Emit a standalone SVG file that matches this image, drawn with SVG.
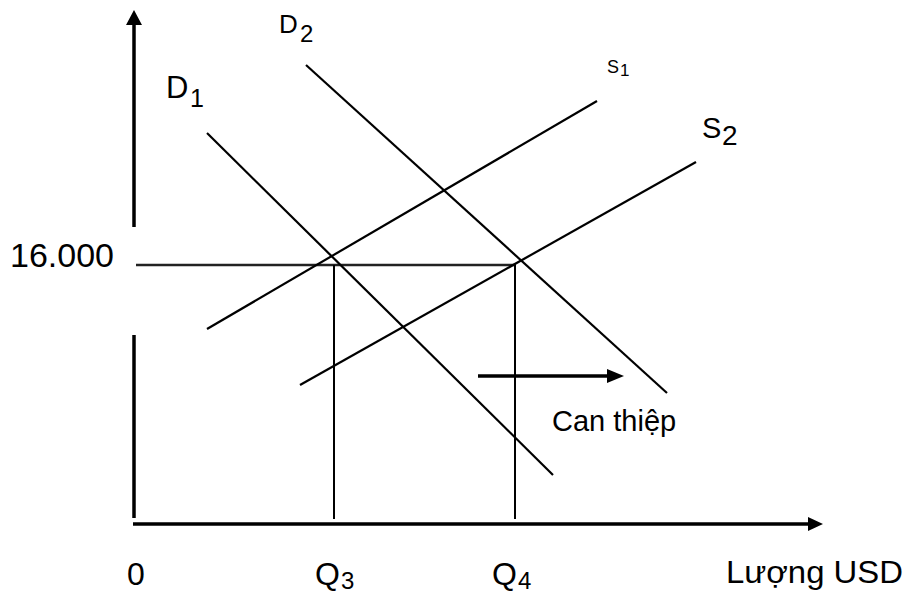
<svg xmlns="http://www.w3.org/2000/svg" width="909" height="594" viewBox="0 0 909 594">
<style>
text{font-family:"Liberation Sans",Arial,sans-serif;fill:#000}
.axis{stroke:#000;stroke-width:3.5;fill:none}
.curve{stroke:#000;stroke-width:2.2;fill:none}
.guide{stroke:#000;stroke-width:2;fill:none}
.level{stroke:#222;stroke-width:2.5;fill:none}
.head{fill:#000;stroke:none}
</style>
<rect width="909" height="594" fill="#fff"/>
<g id="connectors">
  <g id="y-axis">
    <line class="axis" x1="134" y1="22" x2="134" y2="227"/>
    <line class="axis" x1="134" y1="335" x2="134" y2="518"/>
    <polygon class="head" points="134,10 142,25 126,25"/>
  </g>
  <g id="x-axis">
    <line class="axis" x1="133" y1="524" x2="810" y2="524"/>
    <polygon class="head" points="823,524 808,517 808,531"/>
  </g>
  <line id="level-16000" class="level" x1="136" y1="265" x2="516" y2="265"/>
  <line id="q3-line" class="guide" x1="334" y1="265" x2="334" y2="519"/>
  <line id="q4-line" class="guide" x1="515" y1="265" x2="515" y2="519"/>
  <line id="D1-line" class="curve" x1="207" y1="133" x2="553" y2="475"/>
  <line id="D2-line" class="curve" x1="306" y1="65" x2="667" y2="393"/>
  <line id="S1-line" class="curve" x1="207" y1="329" x2="597" y2="101"/>
  <line id="S2-line" class="curve" x1="300" y1="385" x2="696" y2="162"/>
  <g id="intervention-arrow">
    <line stroke="#000" stroke-width="3.5" x1="478" y1="376" x2="610" y2="376"/>
    <polygon class="head" points="624,376 607,369 607,383"/>
  </g>
</g>
<g id="label-D1"><text x="166" y="98" font-size="31">D</text><text x="190" y="107" font-size="25">1</text></g>
<g id="label-D2"><text x="279" y="33" font-size="26">D</text><text x="300" y="42" font-size="24">2</text></g>
<g id="label-S1"><text x="607" y="73" font-size="18">S</text><text x="620" y="76" font-size="17">1</text></g>
<g id="label-S2"><text x="702" y="138" font-size="29">S</text><text x="722" y="145" font-size="28">2</text></g>
<g id="label-16000"><text x="10" y="267" font-size="34">16.000</text></g>
<g id="label-can-thiep"><text x="552" y="431" font-size="29">Can thiệp</text></g>
<g id="label-0"><text x="127" y="585" font-size="32">0</text></g>
<g id="label-Q3"><text x="315" y="585" font-size="32">Q</text><text x="341" y="589" font-size="24">3</text></g>
<g id="label-Q4"><text x="492" y="585" font-size="32">Q</text><text x="518" y="589" font-size="24">4</text></g>
<g id="label-luong-usd"><text x="726" y="583" font-size="31" textLength="177" lengthAdjust="spacingAndGlyphs">Lượng USD</text></g>
</svg>
